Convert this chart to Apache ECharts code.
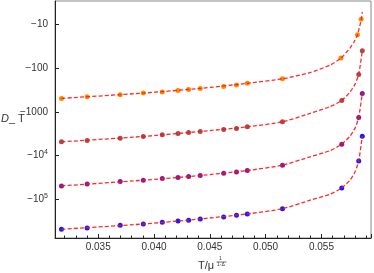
<!DOCTYPE html>
<html>
<head>
<meta charset="utf-8">
<script src="https://cdn.jsdelivr.net/npm/echarts@6/dist/echarts.min.js"></script>
<style>html,body{margin:0;padding:0;background:#fff}#c{width:374px;height:273px}</style>
</head>
<body>
<div id="c"></div>
<script>
// ---- data ----
const temps = [0.03171, 0.03401, 0.03697, 0.03904, 0.04074, 0.04215, 0.0431, 0.04414, 0.04624, 0.04739, 0.04836, 0.05151, 0.05682, 0.05834, 0.05866];
const tempsOrange = [0.03171, 0.03401, 0.03697, 0.03904, 0.04074, 0.04215, 0.0431, 0.04414, 0.04624, 0.04739, 0.04836, 0.05151, 0.05675, 0.05823, 0.05856];
const orangePts = [494, 455, 409, 374, 355, 325, 308, 292, 263, 245, 224, 176, 59.1, 17.3, 7.69];
const brownPts = [4877, 4530, 4010, 3667, 3372, 3131, 2970, 2818, 2535, 2405, 2212, 1698, 550, 139.6, 40.2];
const purplePts = [49550, 44660, 39330, 36730, 33570, 31850, 30210, 28660, 25400, 23710, 22020, 16660, 5505, 1347, 380];
const bluePts = [486400, 454000, 393800, 368000, 336400, 314000, 302700, 282500, 254200, 232400, 217100, 164900, 55100, 13280, 3612];

const fitT = [0.03171, 0.03904, 0.04414, 0.04836, 0.05151, 0.05398, 0.05577, 0.05682, 0.05756, 0.05801, 0.05834, 0.05866];
const fitTOrange = [0.03171, 0.03904, 0.04414, 0.04836, 0.05151, 0.05398, 0.05577, 0.05676, 0.05756, 0.05792, 0.05823, 0.05857, 0.05866];
const orangeFit = [494, 374, 292, 224, 176, 126.9, 85.5, 59.1, 34.9, 25.4, 17.3, 7.69, 5.23];
const brownFit = [4877, 3667, 2818, 2212, 1698, 1091, 762, 550, 355, 232.8, 139.6, 40.2];
const purpleFit = [49550, 36730, 28660, 22020, 16660, 10750, 7753, 5505, 3610, 2368, 1347, 380];
const blueFit = [486400, 368000, 282500, 217100, 165000, 105400, 76830, 55120, 36730, 23460, 13280, 3612];

const xMin = 0.03113, xMax = 0.05944;
const yMin = 2.93, yMax = 7.7e5;

const zip = (xs, ys) => xs.map((x, i) => [x, ys[i]]);
function yLabel(v) {
  const e = Math.round(Math.log10(v));
  if (Math.abs(Math.log10(v) - e) > 1e-6) return '';
  if (e <= 3) return '−' + Math.pow(10, e);
  return '{b|−10}{s|' + e + '}';
}

const chart = echarts.init(document.getElementById('c'), null, {renderer: 'canvas'});
const font = 'Liberation Sans, Arial, sans-serif';
const scatter = (name, xs, ys, color) => ({
  type: 'scatter', name, data: zip(xs, ys), symbolSize: 5,
  itemStyle: {color, opacity: 1}, z: 2, silent: true
});
const fit = (xs, ys) => ({
  type: 'line', data: zip(xs, ys), smooth: 0.2, showSymbol: false,
  lineStyle: {color: 'rgba(255,20,20,0.9)', width: 1.3, type: [4, 2.2]}, z: 3, silent: true
});

chart.setOption({
  animation: false,
  backgroundColor: '#fff',
  grid: {left: 55, right: 3, top: 1, bottom: 35, show: true, borderColor: '#888', borderWidth: 1, backgroundColor: 'transparent'},
  xAxis: {
    type: 'value', min: xMin, max: xMax, splitNumber: 5, minInterval: 0.005, maxInterval: 0.005,
    axisLine: {show: true, lineStyle: {color: '#222', width: 1}},
    axisTick: {show: true, inside: true, length: 4, lineStyle: {color: '#222'}},
    minorTick: {show: true, splitNumber: 5, length: 2.5, lineStyle: {color: '#222'}},
    splitLine: {show: false},
    axisLabel: {color: '#333', fontSize: 10, fontFamily: font, margin: 4, showMinLabel: false, showMaxLabel: false,
      formatter: v => v.toFixed(3)}
  },
  yAxis: {
    type: 'log', logBase: 10, inverse: true, min: yMin, max: yMax,
    axisLine: {show: true, lineStyle: {color: '#222', width: 1}},
    axisTick: {show: true, inside: true, length: 4, lineStyle: {color: '#222'}},
    splitLine: {show: false},
    axisLabel: {color: '#333', fontSize: 10, fontFamily: font, margin: 7, showMinLabel: false, showMaxLabel: false,
      formatter: yLabel,
      rich: {
        b: {fontSize: 10, fontFamily: font, color: '#333'},
        s: {fontSize: 7, fontFamily: font, color: '#333', padding: [0, 0, 6, 0]}
      }}
  },
  graphic: [
    {type: 'text', left: 1, top: 113, style: {
      text: '{i|D}{n|_ T}', rich: {i: {fontStyle: 'italic', fontSize: 11, fontFamily: font, fill: '#333'}, n: {fontSize: 11, fontFamily: font, fill: '#333'}}
    }},
    {type: 'text', left: 198, top: 260, style: {text: 'T/μ', fontSize: 11, fontFamily: font, fill: '#333'}},
    {type: 'text', left: 219, top: 256.5, style: {text: '1', fontSize: 5, fontFamily: font, fill: '#333'}},
    {type: 'line', shape: {x1: 216.5, y1: 262, x2: 226.5, y2: 262}, style: {stroke: '#333', lineWidth: 0.7}},
    {type: 'text', left: 217, top: 262.5, style: {text: '1-Δ', fontSize: 5, fontFamily: font, fill: '#333'}}
  ],
  series: [
    scatter('o', tempsOrange, orangePts, '#ff8a00'),
    scatter('b', temps, brownPts, '#b04a4a'),
    scatter('p', temps, purplePts, '#8e1a8e'),
    scatter('u', temps, bluePts, '#1a1aff'),
    fit(fitTOrange, orangeFit),
    fit(fitT, brownFit),
    fit(fitT, purpleFit),
    fit(fitT, blueFit)
  ]
});
</script>
</body>
</html>
